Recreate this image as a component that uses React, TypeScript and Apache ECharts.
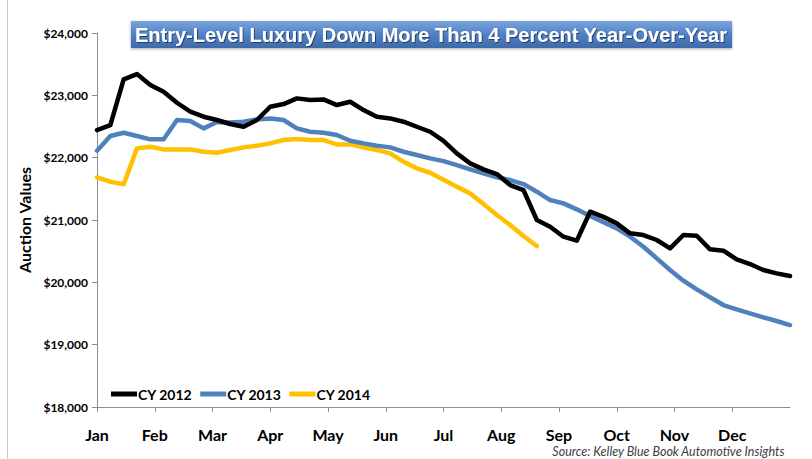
import React, { useEffect, useRef } from "react";
import * as echarts from "echarts";

const months = ["Jan", "Feb", "Mar", "Apr", "May", "Jun", "Jul", "Aug", "Sep", "Oct", "Nov", "Dec"];
const yTicks = [18000, 19000, 20000, 21000, 22000, 23000, 24000];
const weeksPerYear = 52;

const cy2012 = [
  22443, 22523, 23256, 23341, 23165, 23058, 22881, 22737, 22657, 22604,
  22540, 22496, 22604, 22817, 22860, 22951, 22924, 22935, 22844, 22897,
  22764, 22657, 22630, 22577, 22496, 22416, 22270, 22069, 21909, 21813,
  21737, 21561, 21481, 21000, 20892, 20732, 20668, 21133, 21050, 20946,
  20786, 20759, 20679, 20545, 20759, 20748, 20529, 20507, 20369, 20294,
  20197, 20144, 20101,
];
const cy2013 = [
  22112, 22347, 22400, 22347, 22294, 22294, 22604, 22588, 22470, 22572,
  22566, 22577, 22614, 22630, 22604, 22470, 22416, 22400, 22363, 22272,
  22229, 22192, 22165, 22095, 22042, 21988, 21945, 21881, 21813, 21749,
  21685, 21641, 21577, 21454, 21320, 21267, 21171, 21064, 20965, 20866,
  20732, 20571, 20385, 20197, 20026, 19888, 19760, 19636, 19567, 19503,
  19439, 19380, 19315,
];
const cy2014 = [
  21685, 21614, 21572, 22149, 22176, 22133, 22133, 22133, 22095, 22079,
  22122, 22165, 22192, 22229, 22283, 22299, 22283, 22283, 22213, 22213,
  22165, 22122, 22069, 21934, 21828, 21758, 21645, 21534, 21427, 21256,
  21080, 20919, 20743, 20582,
];

const seriesNames = ["CY 2012", "CY 2013", "CY 2014"];
const seriesColors = ["#000000", "#4f81bd", "#ffc000"];
const seriesData = [cy2012, cy2013, cy2014];

const titleText = "Entry-Level Luxury Down More Than 4 Percent Year-Over-Year";
const sourceText = "Source: Kelley Blue Book Automotive Insights";

export default function App() {
  const ref = useRef<HTMLDivElement>(null);
  useEffect(() => {
    if (!ref.current) return;
    const chart = echarts.init(ref.current, null, { renderer: "svg" });
    const font = "Lato, 'Open Sans', sans-serif";
    chart.setOption({
      animation: false,
      backgroundColor: "#ffffff",
      grid: { left: 97, right: 22, top: 33, bottom: 52, containLabel: false },
      legend: {
        left: 106,
        top: 382,
        icon: "rect",
        itemWidth: 26,
        itemHeight: 5,
        itemGap: 8,
        textStyle: { fontFamily: font, fontWeight: "bold", fontSize: 14, color: "#000", padding: [0, 0, 0, -4] },
        data: seriesNames,
      },
      xAxis: {
        type: "value",
        min: 0,
        max: 12,
        interval: 1,
        axisLine: { show: true, lineStyle: { color: "#8c8c8c", width: 1 } },
        axisTick: { show: true, length: 5, lineStyle: { color: "#8c8c8c" } },
        splitLine: { show: false },
        axisLabel: {
          margin: 19,
          fontFamily: font,
          fontWeight: "bold",
          fontSize: 16,
          color: "#000",
          showMaxLabel: false,
          formatter: (v: number) => months[Math.round(v)] ?? "",
        },
      },
      yAxis: {
        type: "value",
        min: yTicks[0],
        max: yTicks[yTicks.length - 1],
        interval: 1000,
        name: "Auction Values",
        nameLocation: "middle",
        nameRotate: 90,
        nameGap: 57,
        nameTextStyle: { fontFamily: font, fontWeight: "bold", fontSize: 16, color: "#000" },
        axisLine: { show: true, lineStyle: { color: "#8c8c8c", width: 1 } },
        axisTick: { show: true, length: 5, lineStyle: { color: "#8c8c8c" } },
        splitLine: { show: false },
        axisLabel: {
          margin: 9,
          fontFamily: font,
          fontWeight: "bold",
          fontSize: 12,
          color: "#000",
          formatter: (v: number) => "$" + v.toLocaleString("en-US"),
        },
      },
      series: seriesNames.map((name, k) => ({
        name,
        type: "line",
        showSymbol: false,
        symbol: "none",
        color: seriesColors[k],
        lineStyle: { width: 4.5, color: seriesColors[k], join: "round", cap: "round" },
        data: seriesData[k].map((v, i) => [(i * 12) / weeksPerYear, v]),
        z: 3 - k,
      })),
      graphic: [
        {
          type: "line",
          shape: { x1: 7.5, y1: 0, x2: 7.5, y2: 459 },
          style: { stroke: "#c8c8c8", lineWidth: 1 },
        },
        {
          type: "rect",
          shape: { x: 131, y: 21, width: 601, height: 27 },
          style: {
            fill: new echarts.graphic.LinearGradient(0, 0, 0, 1, [
              { offset: 0, color: "#7ba3dc" },
              { offset: 0.5, color: "#4f81c7" },
              { offset: 1, color: "#3e6aa8" },
            ]),
            shadowColor: "rgba(0,0,0,0.35)",
            shadowBlur: 3,
            shadowOffsetY: 1,
          },
        },
        {
          type: "text",
          x: 431,
          y: 35,
          style: {
            text: titleText,
            fill: "#ffffff",
            fontFamily: "'Liberation Sans Narrow', 'Liberation Sans', Arial, sans-serif",
            fontWeight: "bold",
            fontSize: 20,
            align: "center",
            verticalAlign: "middle",
            textShadowColor: "rgba(0,0,0,0.5)",
            textShadowOffsetX: 1,
            textShadowOffsetY: 1,
            textShadowBlur: 1,
          },
        },
        {
          type: "text",
          right: 27,
          top: 445,
          style: {
            text: sourceText,
            fill: "#404040",
            fontFamily: font,
            fontStyle: "italic",
            fontSize: 12.5,
          },
        },
      ],
    });
    return () => chart.dispose();
  }, []);
  return <div ref={ref} style={{ position: "fixed", left: 0, top: 0, width: 812, height: 459 }} />;
}
